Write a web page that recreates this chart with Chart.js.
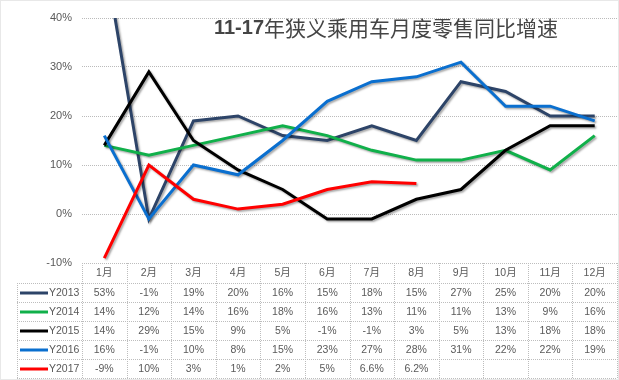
<!DOCTYPE html>
<html><head><meta charset="utf-8">
<script src="https://cdn.jsdelivr.net/npm/chart.js@4/dist/chart.umd.min.js"></script>
<style>html,body{margin:0;padding:0;background:#fff}#wrap{width:619px;height:380px;position:relative}</style>
</head><body><div id="wrap"><canvas id="c" width="619" height="380"></canvas></div>
<script>
const categories = ['1月','2月','3月','4月','5月','6月','7月','8月','9月','10月','11月','12月'];
const seriesNames = ['Y2013','Y2014','Y2015','Y2016','Y2017'];
const y2013 = [53, -1, 19, 20, 16, 15, 18, 15, 27, 25, 20, 20];
const y2014 = [14, 12, 14, 16, 18, 16, 13, 11, 11, 13, 9, 16];
const y2015 = [14, 29, 15, 9, 5, -1, -1, 3, 5, 13, 18, 18];
const y2016 = [16, -1, 10, 8, 15, 23, 27, 28, 31, 22, 22, 19];
const y2017 = [-9, 10, 3, 1, 2, 5, 6.6, 6.2];
const yTicks = [-10, 0, 10, 20, 30, 40];
const titleNum = '11-17';
const titleCjk = '年狭义乘用车月度零售同比增速';

const seriesValues = [y2013, y2014, y2015, y2016, y2017];
const seriesColors = ['#2d4468', '#10b04a', '#000000', '#0a6fcf', '#ff0000'];
const FONT = "'Liberation Sans', 'Noto Sans CJK SC', sans-serif";
const TXT = '#595959';

function fmt(v){ return Number.isInteger(v) ? v + '%' : v.toFixed(1) + '%'; }

const shadowPlugin = {
  id: 'shadow',
  beforeDatasetDraw(chart){
    const ctx = chart.ctx; ctx.save();
    ctx.shadowColor = 'rgba(0,0,0,0.35)'; ctx.shadowBlur = 2;
    ctx.shadowOffsetX = 1.5; ctx.shadowOffsetY = 1.5;
  },
  afterDatasetDraw(chart){ chart.ctx.restore(); }
};

const titlePlugin = {
  id: 'ttl',
  afterDraw(chart){
    const ctx = chart.ctx; ctx.save();
    ctx.fillStyle = '#454545'; ctx.textBaseline = 'middle'; ctx.textAlign = 'left';
    const f1 = "bold 20px 'Liberation Sans', sans-serif";
    const f2 = "21px 'Noto Sans CJK SC', sans-serif";
    ctx.font = f1; const w1 = ctx.measureText(titleNum).width;
    ctx.font = f2; const w2 = ctx.measureText(titleCjk).width;
    const cx = 386, y = 28;
    const x = cx - (w1 + w2) / 2;
    ctx.font = f1; ctx.fillText(titleNum, x, y);
    ctx.font = f2; ctx.fillText(titleCjk, x + w1, y);
    ctx.restore();
  }
};

const tablePlugin = {
  id: 'table',
  afterDraw(chart){
    const {ctx, chartArea: a, scales: {x}} = chart;
    const top = a.bottom, headerH = 20, rowH = 19, legendLeft = 17;
    const colW = (a.right - a.left) / categories.length;
    const bottom = top + headerH + rowH * seriesNames.length;
    ctx.save();
    ctx.strokeStyle = '#bdbdbd'; ctx.lineWidth = 1; ctx.setLineDash([1, 1]);
    const h = (x1, x2, y) => { ctx.beginPath(); ctx.moveTo(x1, Math.round(y) + 0.5); ctx.lineTo(x2, Math.round(y) + 0.5); ctx.stroke(); };
    const v = (xx, y1, y2) => { ctx.beginPath(); ctx.moveTo(Math.round(xx) + 0.5, y1); ctx.lineTo(Math.round(xx) + 0.5, y2); ctx.stroke(); };
    h(a.left, a.right, top);
    for (let r = 0; r <= seriesNames.length; r++) h(legendLeft, a.right, top + headerH + r * rowH);
    for (let i = 0; i <= categories.length; i++) v(a.left + i * colW, top, bottom);
    v(legendLeft, top + headerH, bottom);
    ctx.strokeStyle = '#d0d0d0';
    ctx.strokeRect(0.5, 0.5, chart.width - 1, chart.height - 1);
    ctx.setLineDash([]);
    ctx.font = "10.5px " + FONT; ctx.fillStyle = TXT; ctx.textBaseline = 'middle';
    seriesNames.forEach((name, r) => {
      const cy = top + headerH + r * rowH + rowH / 2 + 0.5;
      ctx.strokeStyle = seriesColors[r]; ctx.lineWidth = 3;
      ctx.beginPath(); ctx.moveTo(20, cy); ctx.lineTo(48, cy); ctx.stroke();
      ctx.textAlign = 'left'; ctx.fillStyle = TXT;
      ctx.fillText(name, 49, cy);
      ctx.textAlign = 'center';
      seriesValues[r].forEach((val, i) => {
        ctx.fillText(fmt(val), x.getPixelForValue(i), cy);
      });
    });
    ctx.restore();
  }
};

new Chart(document.getElementById('c'), {
  type: 'line',
  data: {
    labels: categories,
    datasets: seriesNames.map((n, i) => ({
      label: n, data: seriesValues[i], borderColor: seriesColors[i], backgroundColor: seriesColors[i],
      borderWidth: 3, pointRadius: 0, tension: 0, fill: false, order: 5 - i
    }))
  },
  options: {
    responsive: false, devicePixelRatio: 1, animation: false,
    layout: { padding: { left: 0, right: 2, top: 18, bottom: 97 } },
    plugins: { legend: { display: false }, title: { display: false }, tooltip: { enabled: false } },
    scales: {
      x: {
        offset: true,
        grid: { display: false, drawTicks: false }, border: { display: false },
        ticks: { color: TXT, font: { size: 10.5, family: FONT }, padding: 4, maxRotation: 0, autoSkip: false },
        afterFit(s){ s.height = 20; }
      },
      y: {
        min: -10, max: 40,
        afterBuildTicks(s){ s.ticks = yTicks.map(v => ({ value: v })); },
        grid: { color: '#bbbbbb', drawTicks: false },
        border: { display: false, dash: [1, 1] },
        ticks: { color: TXT, font: { size: 11, family: FONT }, padding: 10, callback: v => v + '%' },
        afterFit(s){ s.width = 82; }
      }
    }
  },
  plugins: [shadowPlugin, titlePlugin, tablePlugin]
});
</script>
</body></html>
